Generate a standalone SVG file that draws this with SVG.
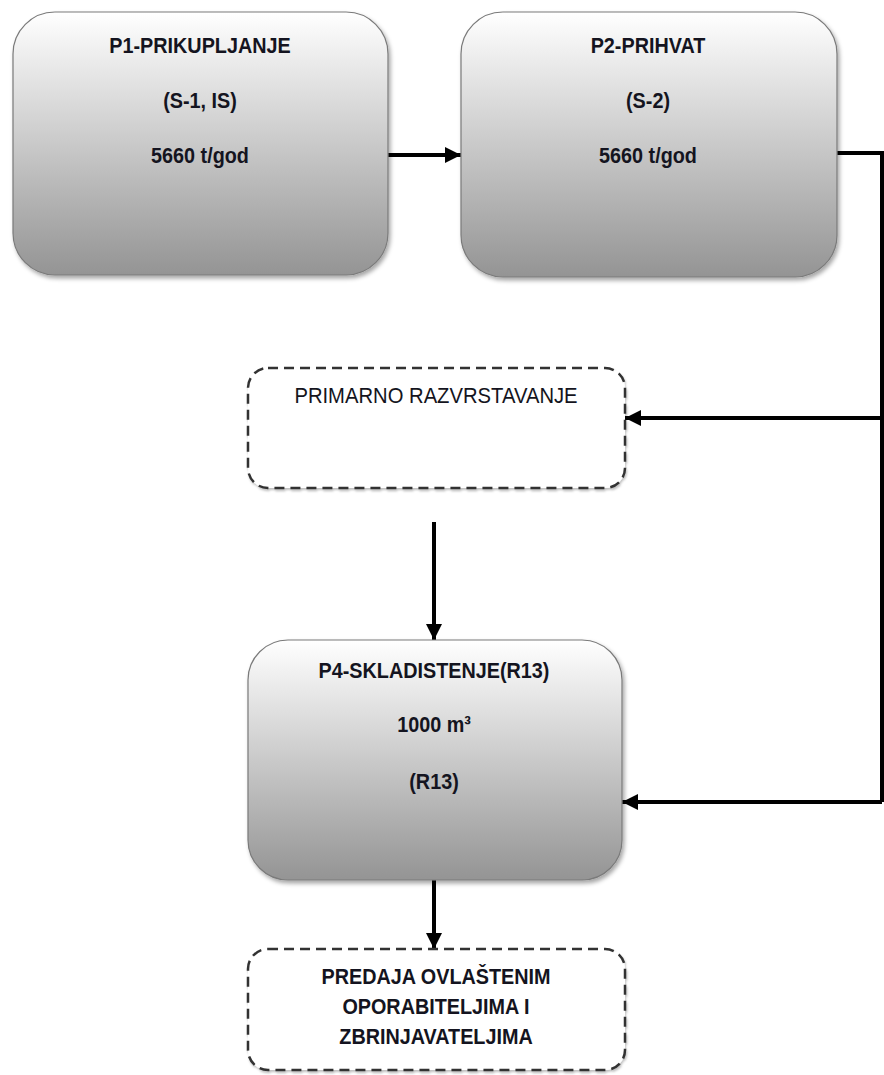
<svg xmlns="http://www.w3.org/2000/svg" width="884" height="1075" viewBox="0 0 884 1075">
<style>
.t{font-family:"Liberation Sans",Arial,sans-serif;font-size:22px;font-weight:bold;fill:#141420;text-anchor:middle}
.r{font-weight:normal}
.box{fill:url(#g);stroke:#7a7a7a;stroke-width:1.2;filter:url(#sh)}
.dash{fill:#fff;stroke:#333;stroke-width:2.5;stroke-dasharray:10 6;filter:url(#sh2)}
.c{fill:none;stroke:#000;stroke-width:4}
</style>
<defs>
<linearGradient id="g" x1="0" y1="0" x2="0" y2="1">
<stop offset="0" stop-color="#ffffff"/>
<stop offset="1" stop-color="#949494"/>
</linearGradient>
<filter id="sh" x="-10%" y="-10%" width="120%" height="120%">
<feDropShadow dx="2" dy="3" stdDeviation="2" flood-color="#000" flood-opacity="0.35"/>
</filter>
<filter id="sh2" x="-10%" y="-10%" width="120%" height="120%">
<feDropShadow dx="1" dy="2" stdDeviation="1" flood-color="#000" flood-opacity="0.25"/>
</filter>
<marker id="a" markerUnits="userSpaceOnUse" markerWidth="18" markerHeight="16" refX="16" refY="8" orient="auto">
<path d="M0,0 L16,8 L0,16 Z" fill="#000"/>
</marker>
</defs>
<g id="connectors">
<line class="c" x1="388" y1="155" x2="461" y2="155" marker-end="url(#a)"/>
<polyline class="c" points="837,153 882,153 882,802" stroke-width="3.5"/>
<line class="c" x1="882" y1="418" x2="625" y2="418" marker-end="url(#a)"/>
<line class="c" x1="882" y1="802" x2="622" y2="802" marker-end="url(#a)"/>
<line class="c" x1="434" y1="522" x2="434" y2="640" marker-end="url(#a)"/>
<line class="c" x1="434" y1="880" x2="434" y2="949" marker-end="url(#a)"/>
</g>
<g id="p1">
<rect class="box" x="13" y="12" width="375" height="263" rx="42"/>
<text class="t" transform="translate(200,53) scale(0.9,1)">P1-PRIKUPLJANJE</text>
<text class="t" transform="translate(200,108) scale(0.9,1)">(S-1, IS)</text>
<text class="t" transform="translate(200,163) scale(0.9,1)">5660 t/god</text>
</g>
<g id="p2">
<rect class="box" x="461" y="12" width="376" height="265" rx="42"/>
<text class="t" transform="translate(648,53) scale(0.9,1)">P2-PRIHVAT</text>
<text class="t" transform="translate(648,108) scale(0.9,1)">(S-2)</text>
<text class="t" transform="translate(648,163) scale(0.9,1)">5660 t/god</text>
</g>
<g id="primarno">
<rect class="dash" x="248" y="368" width="377" height="120" rx="20"/>
<text class="t r" transform="translate(436,403) scale(0.92,1)">PRIMARNO RAZVRSTAVANJE</text>
</g>
<g id="p4">
<rect class="box" x="248" y="640" width="374" height="240" rx="40"/>
<text class="t" transform="translate(434,678) scale(0.9,1)">P4-SKLADISTENJE(R13)</text>
<text class="t" transform="translate(434,732) scale(0.9,1)">1000 m³</text>
<text class="t" transform="translate(434,789) scale(0.9,1)">(R13)</text>
</g>
<g id="predaja">
<rect class="dash" x="248" y="949" width="377" height="121" rx="20"/>
<text class="t" transform="translate(436,984) scale(0.9,1)">PREDAJA OVLAŠTENIM</text>
<text class="t" transform="translate(436,1014) scale(0.9,1)">OPORABITELJIMA I</text>
<text class="t" transform="translate(436,1044) scale(0.9,1)">ZBRINJAVATELJIMA</text>
</g>
</svg>
